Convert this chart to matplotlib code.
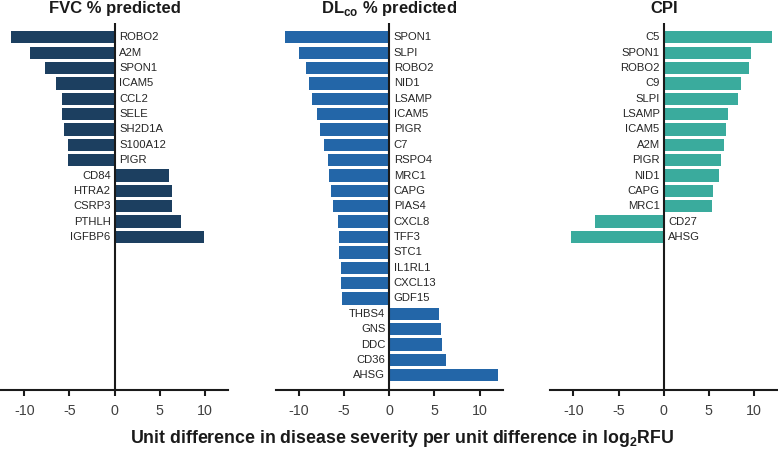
import matplotlib.pyplot as plt

plt.rcParams['font.family'] = ['Liberation Sans', 'DejaVu Sans']
plt.rcParams['mathtext.fontset'] = 'custom'
plt.rcParams['mathtext.rm'] = 'Liberation Sans'
plt.rcParams['mathtext.bf'] = 'Liberation Sans:bold'

# FVC % predicted
fvc_genes = ['ROBO2', 'A2M', 'SPON1', 'ICAM5', 'CCL2', 'SELE', 'SH2D1A', 'S100A12', 'PIGR',
             'CD84', 'HTRA2', 'CSRP3', 'PTHLH', 'IGFBP6']
fvc_vals = [-11.5, -9.37, -7.73, -6.48, -5.81, -5.78, -5.62, -5.14, -5.14,
            6.0, 6.38, 6.41, 7.3, 9.89]

# DLco % predicted
dlco_genes = ['SPON1', 'SLPI', 'ROBO2', 'NID1', 'LSAMP', 'ICAM5', 'PIGR', 'C7', 'RSPO4', 'MRC1',
              'CAPG', 'PIAS4', 'CXCL8', 'TFF3', 'STC1', 'IL1RL1', 'CXCL13', 'GDF15',
              'THBS4', 'GNS', 'DDC', 'CD36', 'AHSG']
dlco_vals = [-11.6, -10.04, -9.27, -8.94, -8.53, -8.0, -7.64, -7.23, -6.76, -6.64,
             -6.42, -6.28, -5.73, -5.54, -5.54, -5.35, -5.32, -5.24,
             5.46, 5.76, 5.79, 6.23, 12.04]

# CPI
cpi_genes = ['C5', 'SPON1', 'ROBO2', 'C9', 'SLPI', 'LSAMP', 'ICAM5', 'A2M', 'PIGR', 'NID1',
             'CAPG', 'MRC1', 'CD27', 'AHSG']
cpi_vals = [12.04, 9.63, 9.44, 8.56, 8.19, 7.11, 6.89, 6.67, 6.3, 6.08,
            5.41, 5.37, -7.63, -10.22]

ticks = [-10, -5, 0, 5, 10]
W, H = 778, 451


def draw_panel(left_px, genes, vals, color, title):
    # axes placed in pixels: xlim -12.55..12.6 at 9 px per unit
    ax = fig.add_axes([left_px / W, 1 - 390 / H, 227 / W, 367.3 / H])
    ypos = list(range(len(genes)))
    ax.barh(ypos, vals, height=0.8, color=color)
    for y, g, v in zip(ypos, genes, vals):
        if v < 0:
            ax.annotate(g, (0, y), xytext=(4.5, 0), textcoords='offset pixels',
                        ha='left', va='center', fontsize=8.1, color='#262626')
        else:
            ax.annotate(g, (0, y), xytext=(-4, 0), textcoords='offset pixels',
                        ha='right', va='center', fontsize=8.1, color='#262626')
    ax.axvline(0, color='#1a1a1a', lw=1.5)
    ax.set_xlim(-12.55, 12.6)
    ax.set_ylim(22.96, -0.95)
    ax.set_xticks(ticks)
    ax.set_xticklabels([str(t) for t in ticks])
    ax.set_yticks([])
    for s in ['left', 'right', 'top']:
        ax.spines[s].set_visible(False)
    ax.spines['bottom'].set_linewidth(1.5)
    ax.spines['bottom'].set_color('#1a1a1a')
    ax.tick_params(axis='x', length=4, width=1.5, color='#1a1a1a', pad=6,
                   labelsize=10.3, labelcolor='#404040')
    ax.set_title(title, fontsize=12, fontweight='bold', pad=6.8, color='#1a1a1a')
    return ax


fig = plt.figure(figsize=(W / 100, H / 100), dpi=100)

draw_panel(1.35, fvc_genes, fvc_vals, '#1c3f60', 'FVC % predicted')
draw_panel(276, dlco_genes, dlco_vals, '#2366a8', r'DL$_{\mathbf{co}}$ % predicted')
draw_panel(550.4, cpi_genes, cpi_vals, '#3aab9d', 'CPI')

fig.text(402.5 / W, 1 - 443.3 / H,
         r'Unit difference in disease severity per unit difference in log$_{\mathbf{2}}$RFU',
         ha='center', va='baseline', fontsize=12.8, fontweight='bold', color='#1a1a1a')

fig.savefig('out.png', dpi=100)
